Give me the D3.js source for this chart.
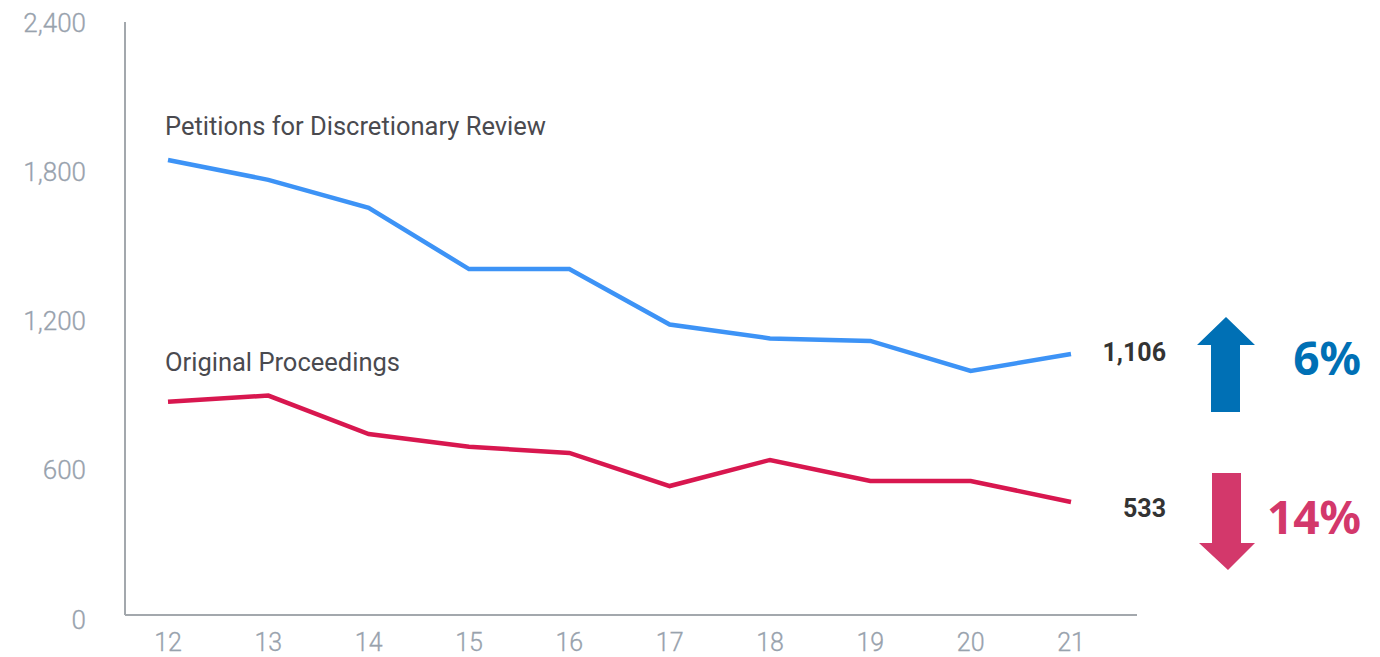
<!DOCTYPE html>
<html>
<head>
<meta charset="utf-8">
<script src="https://cdn.jsdelivr.net/npm/d3@7/dist/d3.min.js"></script>
<style>
  body { margin: 0; background: #fff; }
  svg { display: block; font-family: Roboto, "Open Sans", sans-serif; }
</style>
</head>
<body>
<div class="container"></div>
<script>
// fiscal years on the x axis
var years = [12, 13, 14, 15, 16, 17, 18, 19, 20, 21];
// values
var petitions = [1849, 1769, 1656, 1410, 1410, 1187, 1131, 1121, 1000, 1068];
var proceedings = [876, 901, 746, 695, 670, 537, 642, 557, 557, 473];
var yTicks = [0, 600, 1200, 1800, 2400];
var endLabels = ["1,106", "533"];
var changes = ["6%", "14%"];

var width = 1380, height = 657;

var svg = d3.select('.container')
  .append('svg')
  .attr('width', width)
  .attr('height', height);

var x = d3.scaleLinear().domain([12, 21]).range([168, 1071]);
var y = d3.scaleLinear().domain([0, 2400]).range([619.5, 23]);

// axes lines
svg.append('line')
  .attr('x1', 125).attr('x2', 125)
  .attr('y1', 22).attr('y2', 615)
  .attr('stroke', '#a3a8ad').attr('stroke-width', 2);
svg.append('line')
  .attr('x1', 125).attr('x2', 1137)
  .attr('y1', 615).attr('y2', 615)
  .attr('stroke', '#a3a8ad').attr('stroke-width', 2);

// y tick labels
svg.selectAll('.ytick')
  .data(yTicks)
  .enter().append('text')
  .attr('class', 'ytick')
  .attr('x', 86)
  .attr('y', d => y(d))
  .attr('dy', '0.35em')
  .attr('text-anchor', 'end')
  .attr('font-size', 26)
  .attr('font-weight', 300)
  .attr('stroke', '#98a2ad').attr('stroke-width', 0.3)
  .attr('fill', '#98a2ad')
  .text(d => d3.format(',')(d));

// x tick labels
svg.selectAll('.xtick')
  .data(years)
  .enter().append('text')
  .attr('class', 'xtick')
  .attr('x', d => x(d))
  .attr('y', 642)
  .attr('dy', '0.35em')
  .attr('text-anchor', 'middle')
  .attr('font-size', 25)
  .attr('font-weight', 300)
  .attr('stroke', '#98a2ad').attr('stroke-width', 0.3)
  .attr('fill', '#98a2ad')
  .text(d => d);

var line = d3.line()
  .x((d, i) => x(years[i]))
  .y(d => y(d));

svg.append('path')
  .datum(petitions)
  .attr('d', line)
  .attr('fill', 'none')
  .attr('stroke', '#3d93f6')
  .attr('stroke-width', 4.5);

svg.append('path')
  .datum(proceedings)
  .attr('d', line)
  .attr('fill', 'none')
  .attr('stroke', '#d8174f')
  .attr('stroke-width', 4.5);

// series names
svg.append('text')
  .attr('x', 165).attr('y', 126).attr('dy', '0.35em')
  .attr('font-size', 25.5).attr('fill', '#4a4a4f')
  .text('Petitions for Discretionary Review');
svg.append('text')
  .attr('x', 165).attr('y', 362).attr('dy', '0.35em')
  .attr('font-size', 25.5).attr('fill', '#4a4a4f')
  .text('Original Proceedings');

// end values
svg.append('text')
  .attr('x', 1166).attr('y', 352).attr('dy', '0.35em')
  .attr('text-anchor', 'end')
  .attr('font-size', 25).attr('font-weight', 700).attr('fill', '#333')
  .text(endLabels[0]);
svg.append('text')
  .attr('x', 1166).attr('y', 508).attr('dy', '0.35em')
  .attr('text-anchor', 'end')
  .attr('font-size', 25).attr('font-weight', 700).attr('fill', '#333')
  .text(endLabels[1]);

// arrows
svg.append('path')
  .attr('d', 'M1226,317 L1255,345 L1240,345 L1240,412 L1211,412 L1211,345 L1197,345 Z')
  .attr('fill', '#0070b5');
svg.append('path')
  .attr('d', 'M1212,473 L1241,473 L1241,543 L1255,543 L1228,570 L1199,543 L1212,543 Z')
  .attr('fill', '#d3386b');

svg.append('text')
  .attr('x', 1361).attr('y', 359).attr('dy', '0.35em')
  .attr('text-anchor', 'end')
  .attr('font-family', '"Noto Sans", "Open Sans", sans-serif')
  .attr('font-size', 46).attr('font-weight', 700).attr('fill', '#0070b5')
  .text(changes[0]);
svg.append('text')
  .attr('x', 1361).attr('y', 518).attr('dy', '0.35em')
  .attr('text-anchor', 'end')
  .attr('font-family', '"Noto Sans", "Open Sans", sans-serif')
  .attr('font-size', 46).attr('font-weight', 700).attr('fill', '#d3386b')
  .text(changes[1]);
</script>
</body>
</html>
